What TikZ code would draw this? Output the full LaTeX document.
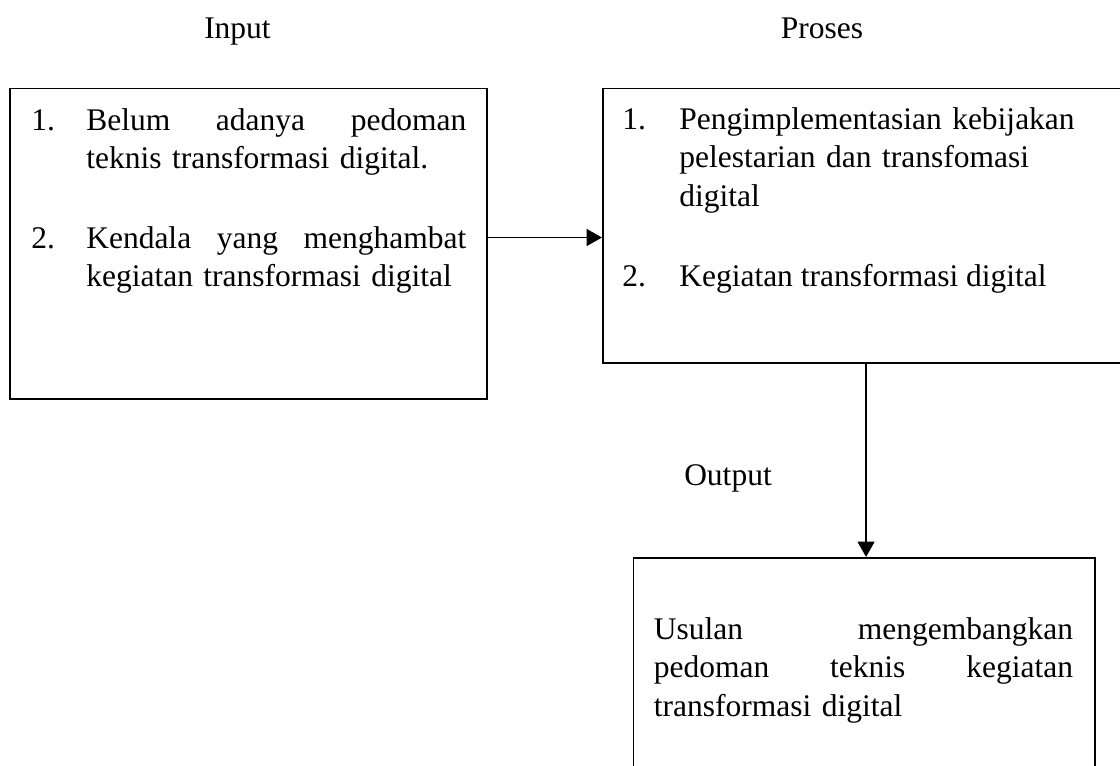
\documentclass[tikz,border=0pt]{standalone}
\usepackage{fontspec}
\setmainfont{Liberation Serif}
\usetikzlibrary{arrows.meta, positioning}

\tikzset{
  box/.style={draw, line width=1.4pt, rectangle, inner sep=0pt, anchor=north west},
  txt/.style={inner sep=0pt, anchor=base west, align=left},
  lbl/.style={inner sep=0pt, anchor=base},
  arr/.style={-{Triangle[length=11pt, width=12pt]}, line width=1.4pt},
}

\begin{document}
\begin{tikzpicture}[x=0.025cm, y=-0.025cm, font=\fontsize{22.4pt}{27.7pt}\selectfont]
    \clip (0,0) rectangle (1120,765);

    % nodes %
      \node[box, minimum width=11.935cm, minimum height=7.76cm] (inbox) at (8.6,87.5) {};
      \node[box, minimum width=13.15cm, minimum height=6.85cm] (prosbox) at (602,87.5) {};
      \node[box, minimum width=11.54cm, minimum height=6.1cm] (outbox) at (632.5,557) {};

      \node[lbl] (lblin) at (237.5,38.6) {Input};
      \node[lbl] (lblpros) at (822,38.6) {Proses};
      \node[lbl] (lblout) at (728,485) {Output};

      % input items
      \node[txt] (in1n) at (31,130) {1.};
      \node[txt, text width=9.5cm] (in1) at (86,130) {Belum\hfill adanya\hfill pedoman\\ teknis transformasi digital.};
      \node[txt] (in2n) at (31,248) {2.};
      \node[txt, text width=9.5cm] (in2) at (86,248) {Kendala\hfill yang\hfill menghambat\\ kegiatan transformasi digital};

      % proses items
      \node[txt] (pr1n) at (622,129) {1.};
      \node[txt, text width=11cm] (pr1) at (679,129) {Pengimplementasian kebijakan\\ pelestarian dan transfomasi\\ digital};
      \node[txt] (pr2n) at (622,286) {2.};
      \node[txt] (pr2) at (679,286) {Kegiatan transformasi digital};

      % output text
      \node[txt, text width=10.475cm] (out1) at (653.6,639) {Usulan\hfill mengembangkan\\ pedoman\hfill teknis\hfill kegiatan\\ transformasi digital};

      \coordinate (arrowrow) at (0,237.5);

      % edges %
      \draw[arr] (inbox.east |- arrowrow) -- (prosbox.west |- arrowrow);
      \draw[arr] (prosbox.south) -- (prosbox.south |- outbox.north);
\end{tikzpicture}
\end{document}
